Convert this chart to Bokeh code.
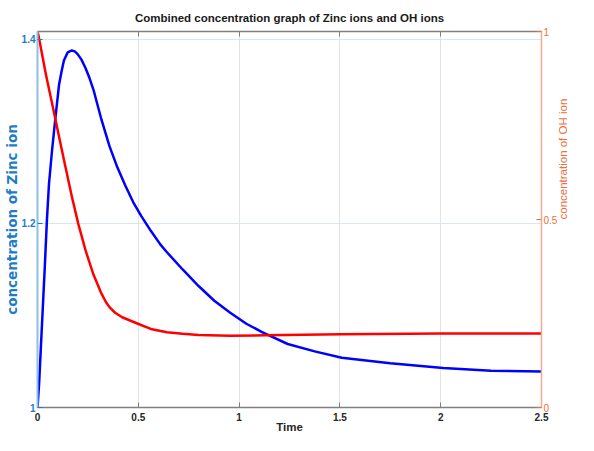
import math
from bokeh.plotting import figure
from bokeh.models import Range1d, LinearAxis, FixedTicker
from bokeh.embed import file_html
from bokeh.resources import INLINE

# ---- data ----
t_zinc = [0.0, 0.008, 0.020, 0.036, 0.047, 0.057, 0.072, 0.089, 0.107, 0.120, 0.131,
          0.150, 0.170, 0.185, 0.199, 0.218, 0.238, 0.258, 0.278, 0.317, 0.357,
          0.396, 0.436, 0.475, 0.515, 0.562, 0.610, 0.641, 0.720, 0.799, 0.877,
          0.956, 1.036, 1.114, 1.241, 1.375, 1.509, 1.75, 2.012, 2.25, 2.5]
zinc = [1.000, 1.026, 1.080, 1.152, 1.205, 1.243, 1.279, 1.315, 1.351, 1.366, 1.377,
        1.386, 1.388, 1.387, 1.384, 1.378, 1.369, 1.358, 1.345, 1.313, 1.284,
        1.261, 1.241, 1.223, 1.208, 1.192, 1.177, 1.169, 1.150, 1.132, 1.116,
        1.103, 1.091, 1.082, 1.069, 1.061, 1.054, 1.048, 1.043, 1.040, 1.039]

t_oh = [0.0, 0.005, 0.042, 0.084, 0.110, 0.139, 0.170, 0.202, 0.240, 0.278, 0.318,
        0.340, 0.357, 0.385, 0.420, 0.492, 0.562, 0.641, 0.720, 0.799, 0.956, 1.130,
        1.509, 2.012, 2.5]
oh = [1.000, 0.989, 0.885, 0.779, 0.712, 0.639, 0.562, 0.489, 0.415, 0.353, 0.302,
      0.280, 0.267, 0.252, 0.240, 0.224, 0.209, 0.200, 0.196, 0.193, 0.191, 0.192,
      0.195, 0.197, 0.197]

x_ticks = [0, 0.5, 1, 1.5, 2, 2.5]
x_tick_labels = ["0", "0.5", "1", "1.5", "2", "2.5"]
left_ticks = [1, 1.2, 1.4]
left_tick_labels = ["1", "1.2", "1.4"]
right_ticks = [0, 0.5, 1]
right_tick_labels = ["0", "0.5", "1"]

title_text = "Combined concentration graph of Zinc ions and OH ions"
x_label = "Time"
left_label = "concentration of Zinc ion"
right_label = "concentration of OH ion"

# ---- styling ----
SANS = "Liberation Sans"
WIDE = "DejaVu Sans"
BLUE_TXT = "#1f7cc4"
BLUE_AX = "#8cc0e6"
ORANGE_TXT = "#ec6e3e"
ORANGE_AX = "#f2ab90"
GRAY = "#7f7f7f"
DARK = "#262626"

p = figure(width=578, height=435, output_backend="svg", toolbar_location=None,
           x_range=Range1d(0, 2.5), y_range=Range1d(1, 1.4086),
           x_axis_location=None, y_axis_location=None,
           min_border_left=4, min_border_right=4, min_border_top=31, min_border_bottom=4)
p.extra_y_ranges = {"oh": Range1d(0, 1)}

p.title.text = title_text
p.title.align = "center"
p.title.text_font = SANS
p.title.text_font_size = "11.5px"
p.title.text_font_style = "bold"
p.title.text_color = "#1a1a1a"
p.title.offset = 0
p.title.standoff = 16

p.outline_line_color = None
p.background_fill_color = "white"

# bottom axis
xb = LinearAxis(ticker=FixedTicker(ticks=x_ticks),
                major_label_overrides={k: v for k, v in zip(x_ticks, x_tick_labels)})
xb.axis_label = x_label
xb.axis_label_text_font = SANS
xb.axis_label_text_font_style = "bold"
xb.axis_label_text_font_size = "11.5px"
xb.axis_label_text_color = DARK
xb.axis_label_standoff = -3
xb.major_label_text_font = SANS
xb.major_label_text_font_style = "bold"
xb.major_label_text_font_size = "10px"
xb.major_label_text_color = DARK
xb.major_label_standoff = 5
xb.axis_line_color = GRAY
xb.axis_line_width = 1.5
xb.major_tick_line_color = GRAY
xb.major_tick_in = 5
xb.major_tick_out = 0
xb.minor_tick_line_color = None
p.add_layout(xb, "below")

# top axis (box edge with inward ticks, no labels)
xt = LinearAxis(ticker=FixedTicker(ticks=x_ticks),
                major_label_overrides={k: "" for k in x_ticks})
xt.major_label_text_font_size = "1px"
xt.major_label_standoff = 0
xt.axis_line_color = GRAY
xt.axis_line_width = 1.5
xt.major_tick_line_color = GRAY
xt.major_tick_in = 5
xt.major_tick_out = 0
xt.minor_tick_line_color = None
p.add_layout(xt, "above")

# left axis (zinc)
yl = LinearAxis(ticker=FixedTicker(ticks=left_ticks),
                major_label_overrides={k: v for k, v in zip(left_ticks, left_tick_labels)})
yl.axis_label = left_label
yl.axis_label_text_font = WIDE
yl.axis_label_text_font_style = "bold"
yl.axis_label_text_font_size = "13.5px"
yl.axis_label_text_color = BLUE_TXT
yl.axis_label_standoff = -1
yl.major_label_text_font = SANS
yl.major_label_text_font_style = "bold"
yl.major_label_text_font_size = "10px"
yl.major_label_text_color = BLUE_TXT
yl.major_label_standoff = 2
yl.axis_line_color = BLUE_AX
yl.axis_line_width = 2
yl.major_tick_line_color = BLUE_TXT
yl.major_tick_in = 5
yl.major_tick_out = 0
yl.minor_tick_line_color = None
p.add_layout(yl, "left")

# right axis (OH)
yr = LinearAxis(y_range_name="oh", ticker=FixedTicker(ticks=right_ticks),
                major_label_overrides={k: v for k, v in zip(right_ticks, right_tick_labels)})
yr.axis_label = right_label
yr.axis_label_text_font = SANS
yr.axis_label_text_font_style = "normal"
yr.axis_label_text_font_size = "11.5px"
yr.axis_label_text_color = ORANGE_TXT
yr.axis_label_standoff = 3
yr.axis_label_orientation = math.pi / 2
yr.major_label_text_font = SANS
yr.major_label_text_font_size = "10px"
yr.major_label_text_color = ORANGE_TXT
yr.major_label_standoff = 2
yr.axis_line_color = ORANGE_AX
yr.axis_line_width = 1.5
yr.major_tick_line_color = ORANGE_TXT
yr.major_tick_in = 5
yr.major_tick_out = 0
yr.minor_tick_line_color = None
p.add_layout(yr, "right")

# grids
p.xgrid.ticker = FixedTicker(ticks=x_ticks)
p.xgrid.grid_line_color = "#e3e3e3"
p.xgrid.grid_line_width = 1
p.ygrid.ticker = FixedTicker(ticks=left_ticks)
p.ygrid.grid_line_color = "#d3e7f5"
p.ygrid.grid_line_width = 1

# curves
p.line(t_zinc, zinc, line_color="#0000ff", line_width=2.5, line_join="round")
p.line(t_oh, oh, line_color="#ff0000", line_width=2.5, line_join="round", y_range_name="oh")

open("out.html", "w").write(file_html(p, INLINE))
